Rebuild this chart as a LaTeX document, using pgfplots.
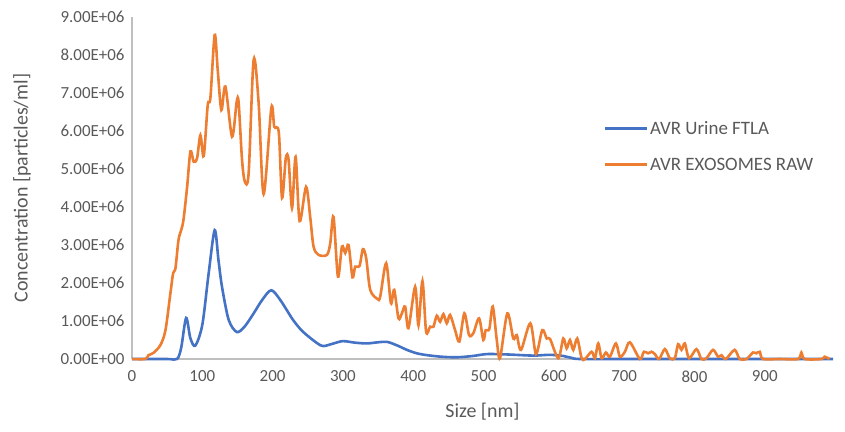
\documentclass[border=0pt]{standalone}
\usepackage{pgfplots}
\pgfplotsset{compat=1.18}
\usepackage{fontspec}
\setmainfont{Carlito}
\definecolor{cblue}{HTML}{4472C4}
\definecolor{corange}{HTML}{ED7D31}
\definecolor{ctext}{HTML}{595959}
\definecolor{caxis}{HTML}{BFBFBF}
\begin{document}
\begin{tikzpicture}
\begin{axis}[
  name=ax,
  at={(132bp,73bp)}, anchor=south west,
  scale only axis, width=701bp, height=342bp,
  xmin=0, xmax=997, ymin=0, ymax=9000000,
  axis lines*=left,
  axis line style={caxis, line width=1.2bp},
  major tick length=0,
  xtick={0,100,...,900},
  ytick={0,1000000,2000000,3000000,4000000,5000000,6000000,7000000,8000000,9000000},
  yticklabels={0.00E+00,1.00E+06,2.00E+06,3.00E+06,4.00E+06,5.00E+06,6.00E+06,7.00E+06,8.00E+06,9.00E+06},
  scaled y ticks=false,
  /pgf/number format/assume math mode=true,
  tick label style={font=\fontsize{17}{20}\selectfont, text=ctext},
  xticklabel style={yshift=-8bp},
  yticklabel style={xshift=-4bp},
  xlabel={Size [nm]},
  ylabel={Concentration [particles/ml]},
  label style={font=\fontsize{20}{24}\selectfont, text=ctext},
  xlabel style={at={(axis description cs:0.5,-0.155)}, anchor=center},
  ylabel style={at={(axis description cs:-0.157,0.5)}, anchor=center},
  clip=false,
  legend style={draw=none, fill=none, at={(axis description cs:0.668,0.707)}, anchor=north west,
    font=\fontsize{19}{23}\selectfont, text=ctext, row sep=18bp},
  legend cell align=left,
  legend image code/.code={\draw[#1] (0bp,0bp) -- (42bp,0bp);},
]
\addplot[cblue, line width=2.6bp, smooth, tension=0.5] coordinates {
(0,0) (50,0) (64,0) (70,0.3e6) (77,1.08e6) (83,0.55e6) (90,0.35e6) (100,0.9e6) (109,2.25e6) (117.6,3.39e6) (123,2.6e6) (128,1.9e6) (137.5,1.03e6) (149,0.71e6) (160,0.85e6) (173,1.2e6) (185,1.55e6) (198,1.81e6) (211,1.55e6) (229,1.03e6) (243,0.72e6) (263,0.42e6) (272,0.34e6) (285,0.4e6) (300,0.47e6) (317,0.43e6) (334,0.41e6) (350,0.44e6) (363,0.45e6) (378,0.35e6) (391,0.24e6) (405,0.15e6) (420,0.1e6) (440,0.06e6) (462,0.045e6) (485,0.08e6) (505,0.13e6) (533,0.12e6) (570,0.09e6) (594,0.11e6) (613,0.08e6) (625,0.03e6) (637,0) (700,0) (800,0) (900,0) (997,0)
};
\addlegendentry{AVR Urine FTLA}
\addplot[corange, line width=2.6bp, smooth, tension=0.5] coordinates {
(0,0) (19,0) (23.4,0.1e6) (30.5,0.16e6) (40.5,0.37e6) (47.6,0.76e6) (54.7,1.74e6) (58.5,2.26e6) (61.8,2.39e6) (66.1,3.13e6) (69.9,3.39e6) (73.2,3.66e6) (78.4,4.53e6) (83.1,5.46e6) (87.8,5.19e6) (92.6,5.29e6) (97.3,5.89e6) (102,5.34e6) (107.7,6.68e6) (111.5,6.87e6) (117.6,8.53e6) (121.9,7.61e6) (127.1,6.55e6) (132.8,7.17e6) (142.3,5.85e6) (148.9,6.77e6) (151.7,6.74e6) (156.5,5.24e6) (160.5,4.67e6) (165.9,4.89e6) (173,7.87e6) (180.1,6.74e6) (187.2,4.34e6) (198.2,6.61e6) (202.4,6.11e6) (208.8,5.96e6) (213.4,4.24e6) (218.8,5.29e6) (222.7,5.24e6) (227.6,3.97e6) (232.7,5.32e6) (238.4,3.63e6) (247.6,4.53e6) (253.6,3.71e6) (258.2,2.96e6) (265.3,2.74e6) (277.3,2.74e6) (282,3.05e6) (286.6,3.74e6) (292.9,2.17e6) (298.6,2.96e6) (303.3,2.79e6) (308,3.0e6) (313.6,2.15e6) (317.5,2.43e6) (323.6,2.45e6) (328.4,2.89e6) (333.1,2.65e6) (338.8,1.82e6) (349.1,1.58e6) (353,1.64e6) (361.5,2.52e6) (368.2,1.47e6) (372.9,1.82e6) (379,1.07e6) (383.8,1.2e6) (388.5,1.38e6) (393.2,0.81e6) (402.7,1.9e6) (407.4,0.89e6) (413.1,2.05e6) (418.3,0.72e6) (424,0.85e6) (428.7,0.85e6) (433.5,1.14e6) (438.2,0.98e6) (442.9,1.18e6) (447.7,0.94e6) (452.4,1.16e6) (459.5,0.76e6) (465.6,0.46e6) (472.7,1.2e6) (479.4,0.63e6) (485.5,0.68e6) (493.6,1.07e6) (499.7,0.5e6) (503.1,0.76e6) (508.2,0.79e6) (513.1,1.38e6) (518.8,0.5e6) (523.4,0.02e6) (533.8,1.2e6) (542.3,0.54e6) (547.2,0.63e6) (553.3,0.24e6) (566.5,0.94e6) (574.6,0.13e6) (583.5,0.76e6) (589.8,0.54e6) (594.5,0.53e6) (606.3,0.02e6) (613.4,0.54e6) (618.2,0.28e6) (622.9,0.5e6) (627.6,0.24e6) (633.2,0.54e6) (639.5,0.02e6) (644.2,0) (653.7,0.19e6) (658.4,0.02e6) (663.1,0.41e6) (667.9,0.02e6) (674,0.17e6) (679.7,0.06e6) (688.2,0.41e6) (693.9,0.06e6) (701,0.19e6) (708.1,0.44e6) (722.3,0) (728,0.19e6) (734.1,0.15e6) (738.9,0.19e6) (743.6,0.13e6) (749.7,0) (757.8,0.26e6) (764.9,0.02e6) (772,0.02e6) (776.7,0.39e6) (781.5,0.24e6) (786.2,0.41e6) (792.3,0.02e6) (802.8,0.26e6) (809.9,0) (817,0.02e6) (826.4,0.24e6) (833.5,0.06e6) (838.4,0.1e6) (844.5,0) (857.1,0.24e6) (864.2,0) (873.9,0) (883.2,0.17e6) (888.1,0.15e6) (892.8,0.19e6) (897.4,0) (920,0) (947.2,0) (952,0.17e6) (956.7,0) (980.8,0) (985,0.06e6) (992,0)
};
\addlegendentry{AVR EXOSOMES RAW}
\end{axis}
\pgfresetboundingbox
\path (0bp,0bp) rectangle (845bp,432bp);
\end{tikzpicture}
\end{document}
